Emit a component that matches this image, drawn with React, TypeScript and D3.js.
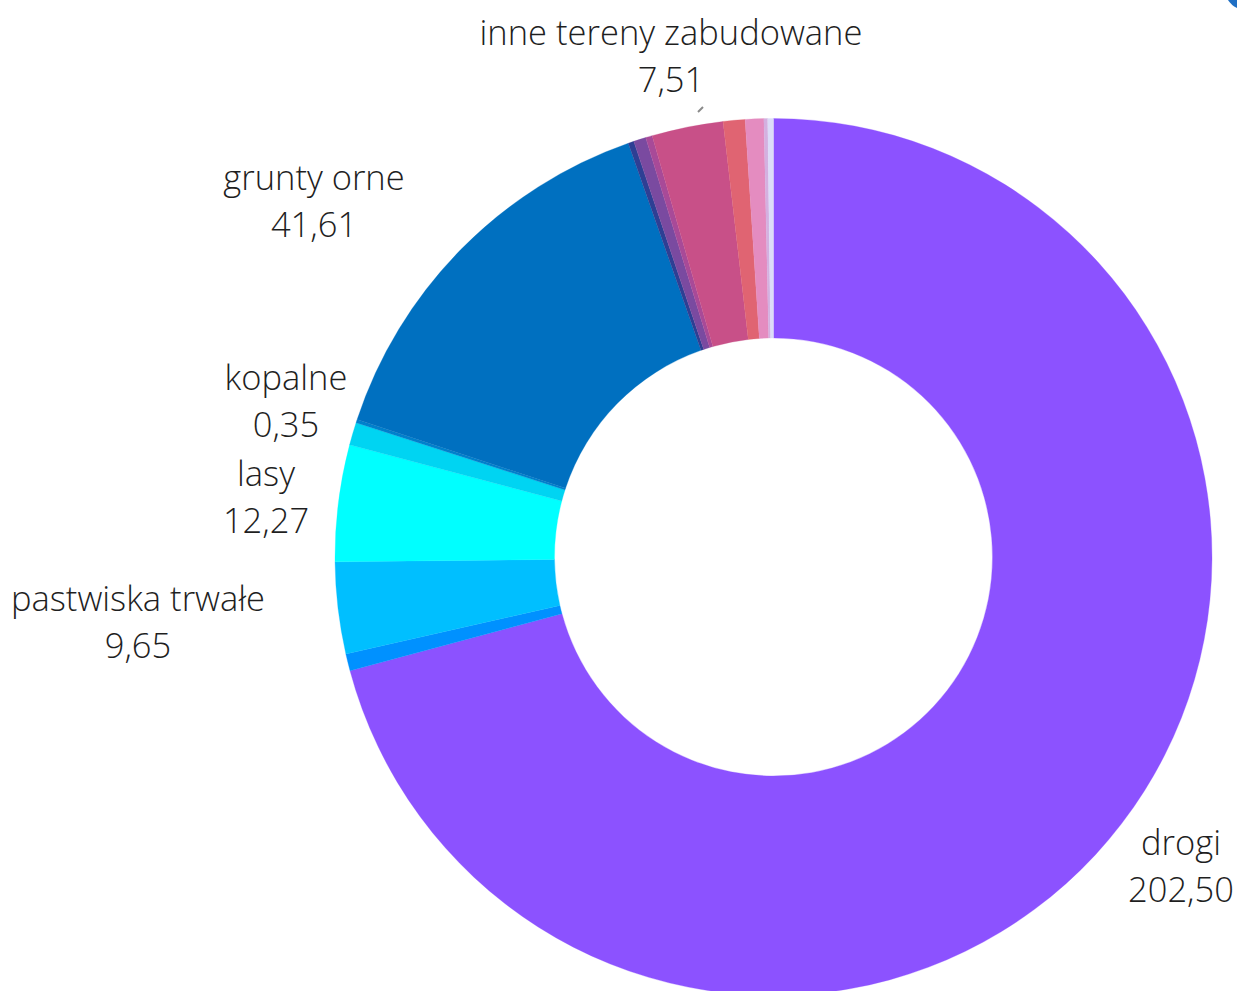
import React from "react";
import * as d3 from "d3";

const categories = [
  "drogi",
  "tereny kolejowe",
  "pastwiska trwałe",
  "lasy",
  "łąki trwałe",
  "kopalne",
  "grunty orne",
  "wody",
  "tereny przemysłowe",
  "tereny rekreacyjne",
  "inne tereny zabudowane",
  "tereny mieszkaniowe",
  "sady",
  "nieużytki",
  "użytki ekologiczne",
];
const values = [202.5, 1.79, 9.65, 12.27, 2.39, 0.35, 41.61, 0.6, 1.3, 0.7, 7.51, 2.3, 1.95, 0.4, 0.6];
const valueLabels = ["202,50", "", "9,65", "12,27", "", "0,35", "41,61", "", "", "", "7,51", "", "", "", ""];
const colors = [
  "#8c52ff", "#0091ff", "#00bfff", "#00ffff", "#00d4f2", "#0080cc", "#0070c0",
  "#2e3f94", "#7a4aa0", "#a84a98", "#c85088", "#e06472", "#e48cc0", "#d4b0e0", "#dcdcf8",
];
// label anchor positions (text center x, first baseline y)
const labelPos: Record<string, [number, number]> = {
  "inne tereny zabudowane": [671, 45],
  "grunty orne": [314, 190],
  "kopalne": [286, 390],
  "lasy": [266, 486],
  "pastwiska trwałe": [138, 611],
  "drogi": [1181, 855],
};

export default function App() {
  const W = 1237, H = 991;
  const cx = 773.5, cy = 557, rO = 438.5, rI = 219;
  const pie = d3.pie<number>().sort(null).value((d) => d)(values);
  const arc = d3.arc<d3.PieArcDatum<number>>().innerRadius(rI).outerRadius(rO);
  const font = "'Open Sans', 'Noto Sans', sans-serif";
  return (
    <svg width={W} height={H} style={{ position: "absolute", left: 0, top: 0, background: "#fff" }}>
      <g transform={`translate(${cx},${cy})`}>
        {pie.map((p, i) => (
          <path key={i} d={arc(p) || ""} fill={colors[i]} stroke={colors[i]} strokeWidth={0.3} />
        ))}
      </g>
      <line x1={698} y1={112} x2={703} y2={107} stroke="#8a8a8a" strokeWidth={2} />
      {categories.map((c, i) => {
        const pos = labelPos[c];
        if (!pos) return null;
        return (
          <text key={c} x={pos[0]} y={pos[1]} textAnchor="middle" fontFamily={font} fontWeight={300} fontSize={34.5} fill="#1f1f1f">
            <tspan x={pos[0]}>{c}</tspan>
            <tspan x={pos[0]} dy={47}>{valueLabels[i]}</tspan>
          </text>
        );
      })}
      <path d="M1228,0 L1237,0 L1237,8 Q1231,5 1228,0 Z" fill="#1f6fc4" />
    </svg>
  );
}
